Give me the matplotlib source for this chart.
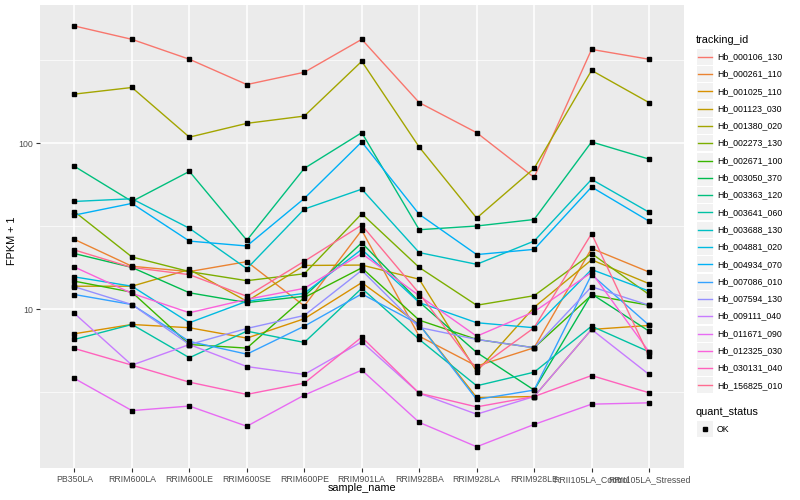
import numpy as np
import matplotlib
matplotlib.use("Agg")
import matplotlib.pyplot as plt
from matplotlib.patches import Rectangle
from matplotlib.lines import Line2D

# samples on the x axis
samples = ["PB350LA", "RRIM600LA", "RRIM600LE", "RRIM600SE", "RRIM600PE",
           "RRIM901LA", "RRIM928BA", "RRIM928LA", "RRIM928LE",
           "RRII105LA_Control", "RRII105LA_Stressed"]

tracking_ids = ["Hb_000106_130", "Hb_000261_110", "Hb_001025_110", "Hb_001123_030",
                "Hb_001380_020", "Hb_002273_130", "Hb_002671_100", "Hb_003050_370",
                "Hb_003363_120", "Hb_003641_060", "Hb_003688_130", "Hb_004881_020",
                "Hb_004934_070", "Hb_007086_010", "Hb_007594_130", "Hb_009111_040",
                "Hb_011671_090", "Hb_012325_030", "Hb_030131_040", "Hb_156825_010"]

# ggplot hue palette, 20 levels
colors = ["#F8766D", "#EA8331", "#D89000", "#C09B00", "#A3A500", "#7CAE00",
          "#39B600", "#00BB4E", "#00BF7D", "#00C1A3", "#00BFC4", "#00BAE0",
          "#00B0F6", "#35A2FF", "#9590FF", "#C77CFF", "#E76BF3", "#FA62DB",
          "#FF62BC", "#FF6C91"]

# FPKM + 1, one list per tracking_id
fpkm = [
    [509, 423, 321, 226, 268, 423, 176, 116, 62.4, 368, 321],
    [26.4, 18.2, 16.9, 19.4, 10.5, 30.0, 6.9, 4.56, 5.88, 23.3, 16.8],
    [7.14, 8.12, 7.76, 6.72, 8.79, 14.5, 8.12, 2.95, 2.99, 7.58, 8.01],
    [13.8, 13.8, 17.4, 11.2, 18.4, 18.5, 15.2, 4.23, 10.3, 19.9, 14.3],
    [198, 217, 109, 132, 146, 312, 95, 35.5, 70.7, 275, 176],
    [38.8, 20.7, 16.9, 14.9, 16.4, 37.7, 17.9, 10.6, 12.1, 21.7, 12.3],
    [14.8, 12.7, 6.15, 5.85, 11.8, 17.8, 8.62, 6.60, 5.88, 12.2, 10.6],
    [21.7, 17.9, 12.6, 11.0, 12.0, 25.2, 11.1, 5.51, 3.27, 12.4, 7.40],
    [72.7, 44.7, 67.8, 26.1, 70.7, 116, 30.2, 31.8, 34.8, 102, 80.4],
    [6.60, 8.12, 5.12, 7.40, 6.33, 13.4, 6.60, 3.47, 4.19, 7.93, 5.56],
    [44.7, 46.4, 30.8, 17.6, 40.2, 53.0, 22.0, 18.7, 25.8, 60.7, 38.5],
    [15.7, 13.8, 8.32, 11.2, 12.5, 23.0, 11.0, 8.32, 7.76, 17.4, 12.9],
    [37.0, 43.5, 25.8, 24.1, 46.6, 102, 37.4, 21.4, 23.0, 54.6, 34.0],
    [12.3, 10.7, 6.42, 5.38, 7.93, 12.4, 8.12, 2.87, 3.27, 16.2, 8.04],
    [13.7, 10.7, 6.15, 7.68, 9.20, 17.2, 7.79, 6.60, 5.88, 13.7, 10.6],
    [9.46, 4.62, 6.15, 4.53, 4.06, 6.39, 3.13, 2.34, 2.99, 7.58, 4.06],
    [3.84, 2.46, 2.62, 1.98, 3.05, 4.31, 2.09, 1.49, 2.03, 2.69, 2.74],
    [18.0, 12.5, 9.55, 11.5, 13.4, 21.7, 12.1, 6.9, 9.69, 16.7, 5.56],
    [5.82, 4.62, 3.65, 3.08, 3.60, 6.81, 3.13, 2.59, 2.99, 4.00, 3.15],
    [22.8, 17.9, 16.2, 12.0, 19.5, 32.2, 12.5, 4.35, 7.76, 28.6, 5.23],
]

y_ticks = [10, 100]
y_minor = [10 ** 0.5, 10 ** 1.5, 10 ** 2.5]

plt.rcParams['font.family'] = ['Liberation Sans', 'DejaVu Sans']
fig = plt.figure(figsize=(8, 5), dpi=100)
fig.patch.set_facecolor("white")
ax = fig.add_axes([40 / 800, 1 - 468 / 500, (683.5 - 40) / 800, (468 - 5) / 500])
ax.set_facecolor("#EBEBEB")

x = np.arange(len(samples))
for vals, col in zip(fpkm, colors):
    ax.plot(x, vals, color=col, lw=1.0, zorder=3)
for vals in fpkm:
    ax.plot(x, vals, ls="none", marker="s", ms=2.8, color="black", zorder=4)

ax.set_yscale("log")
ax.set_ylim(1.11, 681)
ax.set_xlim(-0.6, len(samples) - 0.4)
ax.set_yticks(y_ticks)
ax.set_yticklabels([str(t) for t in y_ticks])
ax.set_yticks(y_minor, minor=True)
ax.yaxis.set_minor_formatter(matplotlib.ticker.NullFormatter())
ax.set_xticks(x)
ax.set_xticklabels(samples)

ax.grid(True, which="major", color="white", lw=1.1, zorder=0)
ax.grid(True, which="minor", axis="y", color="white", lw=0.5, zorder=0)
ax.set_axisbelow(True)
for s in ax.spines.values():
    s.set_visible(False)
ax.tick_params(which="major", length=3, color="#333333", labelsize=6.3,
               labelcolor="#4D4D4D", pad=2)
ax.tick_params(which="minor", length=0)
ax.set_xlabel("sample_name", fontsize=7.8)
ax.set_ylabel("FPKM + 1", fontsize=7.8)
ax.xaxis.set_label_coords(0.5, -0.033)
ax.yaxis.set_label_coords(-0.036, 0.49)

# legends drawn in pixel coordinates
lg = fig.add_axes([0, 0, 1, 1])
lg.set_xlim(0, 800)
lg.set_ylim(500, 0)
lg.axis("off")
lg.text(696, 40, "tracking_id", fontsize=7.8, va="center", ha="left")
for i, (tid, col) in enumerate(zip(tracking_ids, colors)):
    yc = 56.7 + i * 17.3
    lg.add_patch(Rectangle((697, yc - 8), 16, 16, facecolor="#F2F2F2", edgecolor="none"))
    lg.add_line(Line2D([698, 712], [yc, yc], color=col, lw=1.0))
    lg.text(717, yc, tid, fontsize=6.3, va="center", ha="left")
lg.text(696, 412, "quant_status", fontsize=7.8, va="center", ha="left")
lg.add_patch(Rectangle((697, 421), 16, 16, facecolor="#F2F2F2", edgecolor="none"))
lg.plot([705], [429], marker="s", ms=2.8, color="black")
lg.text(717, 429, "OK", fontsize=6.3, va="center", ha="left")

fig.savefig("out.png", dpi=100)
